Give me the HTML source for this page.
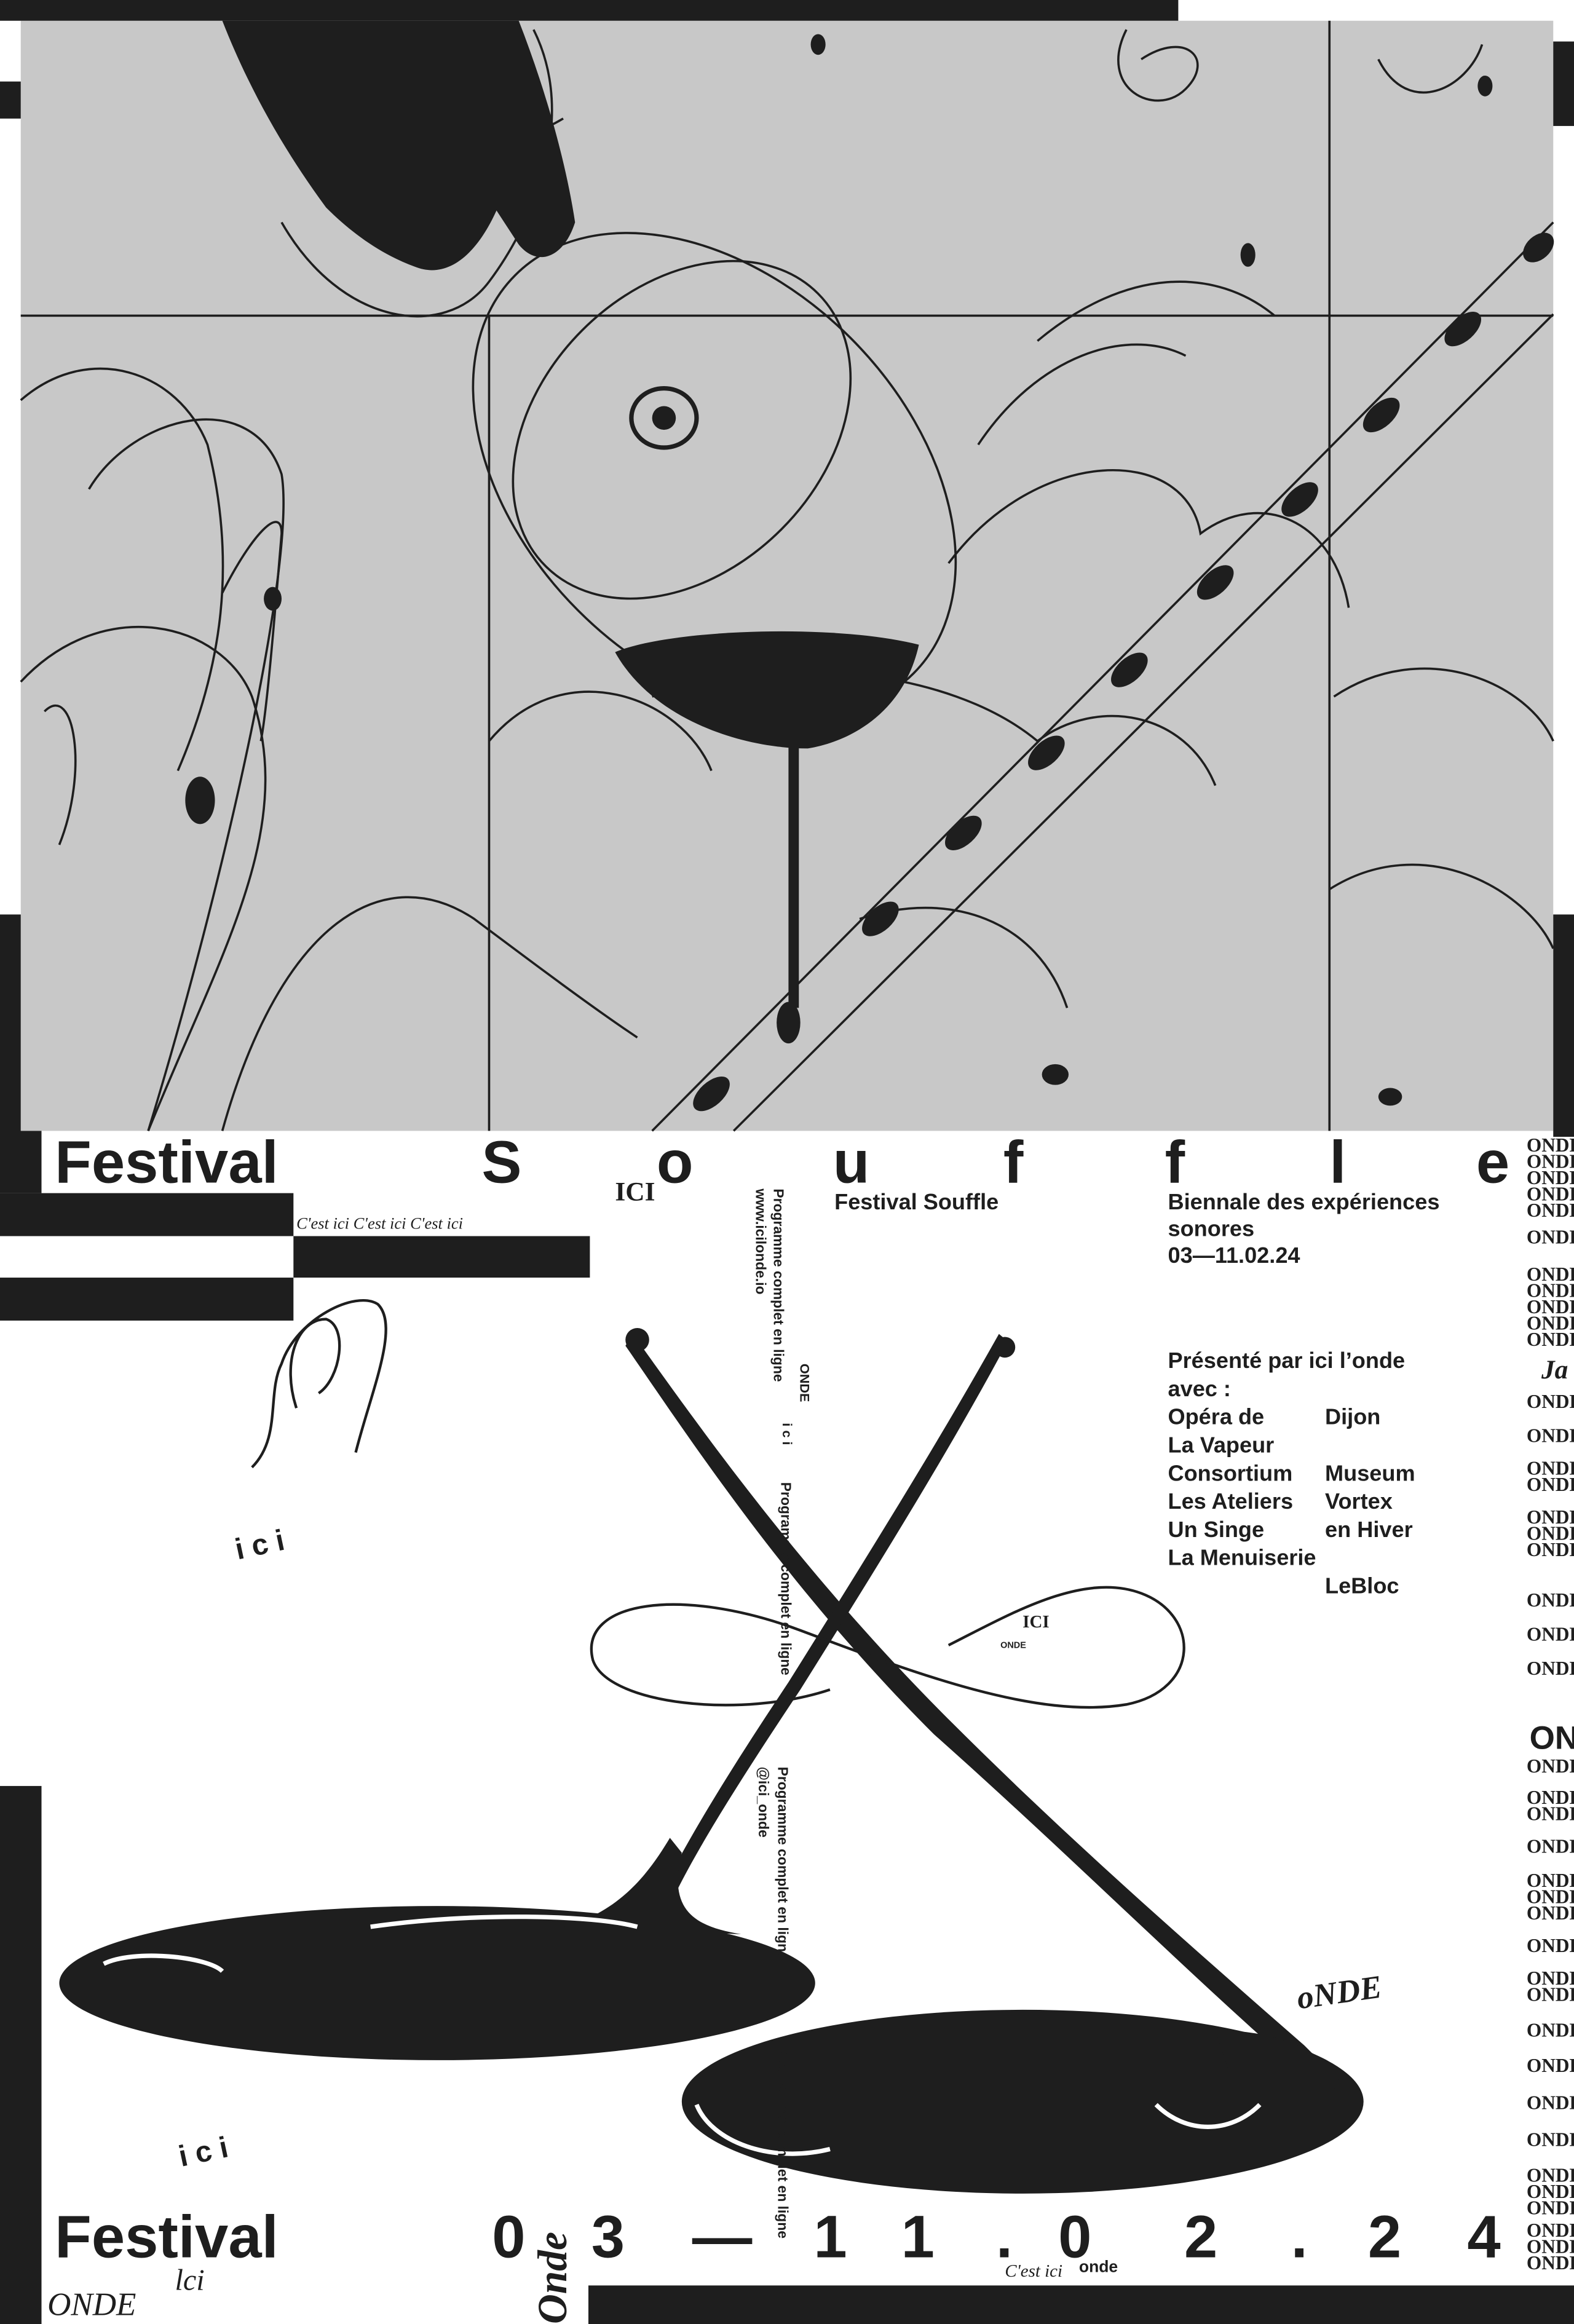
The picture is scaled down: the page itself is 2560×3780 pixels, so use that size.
<!DOCTYPE html>
<html><head><meta charset="utf-8"><style>
html,body{margin:0;padding:0;background:#fff;}
svg{display:block;}
.t{font-family:"Liberation Sans",sans-serif;font-weight:700;fill:#1e1e1e;}
.bl{font-family:"Liberation Serif","DejaVu Serif",serif;font-weight:700;fill:#1e1e1e;}
.sc{font-family:"Liberation Serif",serif;font-style:italic;fill:#1e1e1e;}
</style></head><body>
<svg width="2560" height="3780" viewBox="0 0 1062 1568" preserveAspectRatio="none" xmlns="http://www.w3.org/2000/svg">
<rect width="1062" height="1568" fill="#fff"/>
<rect x="14" y="14" width="1034" height="749" fill="#c8c8c8"/>
<rect x="0" y="0" width="795" height="14" fill="#1e1e1e"/>
<rect x="0" y="55" width="14" height="25" fill="#1e1e1e"/>
<rect x="0" y="617" width="14" height="150" fill="#1e1e1e"/>
<rect x="1048" y="28" width="14" height="57" fill="#1e1e1e"/>
<rect x="1048" y="617" width="14" height="150" fill="#1e1e1e"/>
<g fill="none" stroke="#1e1e1e" stroke-width="1.5">
<line x1="14" y1="213" x2="1048" y2="213"/>
<line x1="330" y1="213" x2="330" y2="763"/>
<line x1="897" y1="14" x2="897" y2="763"/>
<line x1="440" y1="763" x2="1048" y2="150"/>
<line x1="495" y1="763" x2="1048" y2="212"/>
<ellipse cx="482" cy="320" rx="190" ry="130" transform="rotate(45 482 320)"/>
<ellipse cx="460" cy="290" rx="95" ry="130" transform="rotate(45 460 290)"/>
<path d="M190,150 C230,220 300,230 330,190 C360,150 390,80 360,20"/>
<path d="M240,40 C280,90 330,110 380,80"/>
<path d="M14,270 C60,230 120,250 140,300 C160,380 150,450 120,520"/>
<path d="M14,460 C70,400 150,420 170,470 C200,560 150,640 100,763"/>
<path d="M100,763 C150,600 200,380 190,320 C170,260 90,280 60,330"/>
<path d="M150,763 C190,620 260,580 320,620 C360,650 400,680 430,700"/>
<path d="M330,500 C380,440 460,470 480,520"/>
<path d="M440,470 C520,440 640,450 700,500 C740,470 800,480 820,530"/>
<path d="M640,380 C700,300 800,300 810,360 C850,330 900,350 910,410"/>
<path d="M660,300 C700,240 760,220 800,240"/>
<path d="M700,230 C760,180 820,180 860,213"/>
<path d="M900,470 C960,430 1030,460 1048,500"/>
<path d="M580,620 C640,600 700,620 720,680"/>
<path d="M897,600 C960,560 1030,600 1048,640"/>
<path d="M760,20 C740,60 780,80 800,60 C820,40 800,20 770,40"/>
<path d="M930,40 C950,80 990,60 1000,30"/>
<path d="M150,400 C170,360 190,340 190,360 C185,420 180,480 176,500"/>
<path d="M30,480 C50,460 60,520 40,570"/>
</g>
<path d="M150,14 L350,14 C368,60 382,110 388,150 C380,175 362,180 350,165 L335,142 C320,175 300,188 280,180 C258,172 238,158 220,140 C192,102 168,60 150,14 Z" fill="#1e1e1e"/>
<g fill="#1e1e1e">
<ellipse cx="480" cy="738" rx="15" ry="8" transform="rotate(-42 480 738)"/>
<ellipse cx="594" cy="620" rx="15" ry="8" transform="rotate(-42 594 620)"/>
<ellipse cx="650" cy="562" rx="15" ry="8" transform="rotate(-42 650 562)"/>
<ellipse cx="706" cy="508" rx="15" ry="8" transform="rotate(-42 706 508)"/>
<ellipse cx="762" cy="452" rx="15" ry="8" transform="rotate(-42 762 452)"/>
<ellipse cx="820" cy="393" rx="15" ry="8" transform="rotate(-42 820 393)"/>
<ellipse cx="877" cy="337" rx="15" ry="8" transform="rotate(-42 877 337)"/>
<ellipse cx="932" cy="280" rx="15" ry="8" transform="rotate(-42 932 280)"/>
<ellipse cx="987" cy="222" rx="15" ry="8" transform="rotate(-42 987 222)"/>
<ellipse cx="1038" cy="167" rx="12" ry="8" transform="rotate(-42 1038 167)"/>
<path d="M415,440 C450,425 560,420 620,435 C610,480 575,500 545,505 C500,505 440,485 415,440 Z"/>
<rect x="532" y="500" width="7" height="180"/>
<ellipse cx="532" cy="690" rx="8" ry="14"/>
<ellipse cx="448" cy="282" rx="22" ry="20" fill="none" stroke="#1e1e1e" stroke-width="3"/>
<ellipse cx="448" cy="282" rx="8" ry="8"/>
<ellipse cx="184" cy="404" rx="6" ry="8"/>
<ellipse cx="135" cy="540" rx="10" ry="16"/>
<ellipse cx="842" cy="172" rx="5" ry="8"/>
<ellipse cx="1002" cy="58" rx="5" ry="7"/>
<ellipse cx="552" cy="30" rx="5" ry="7"/>
<ellipse cx="712" cy="725" rx="9" ry="7"/>
<ellipse cx="938" cy="740" rx="8" ry="6"/>
</g>

<rect x="0" y="763" width="28" height="42" fill="#1e1e1e"/>
<rect x="0" y="805" width="198" height="29" fill="#1e1e1e"/>
<rect x="198" y="834" width="200" height="28" fill="#1e1e1e"/>
<rect x="0" y="862" width="198" height="29" fill="#1e1e1e"/>
<rect x="0" y="1205" width="28" height="363" fill="#1e1e1e"/>
<rect x="397" y="1542" width="665" height="26" fill="#1e1e1e"/>

<g fill="#1e1e1e">
<path d="M427,900 C470,960 540,1060 640,1160 C720,1240 800,1310 880,1380 L900,1400 L880,1400 C800,1330 720,1250 630,1170 C530,1070 465,970 422,908 Z"/>
<circle cx="430" cy="904" r="8"/>
<path d="M680,905 C640,980 590,1060 540,1140 C500,1200 465,1255 450,1290 L440,1290 C458,1250 492,1195 532,1135 C582,1055 632,975 674,900 Z"/>
<circle cx="678" cy="909" r="7"/>
<ellipse cx="295" cy="1338" rx="255" ry="52"/>
<path d="M380,1300 C420,1290 440,1260 452,1240 L460,1250 C450,1290 470,1300 500,1305 Z"/>
<ellipse cx="690" cy="1418" rx="230" ry="62"/>
<path d="M820,1370 C860,1370 880,1380 905,1398 L900,1410 C870,1405 850,1400 830,1400 Z"/>
</g>
<g fill="none" stroke="#fff" stroke-width="3">
<path d="M70,1325 C90,1315 140,1320 150,1330"/>
<path d="M250,1300 C320,1290 400,1292 430,1300"/>
<path d="M470,1420 C480,1445 520,1460 560,1450"/>
<path d="M780,1420 C800,1440 830,1440 850,1420"/>
</g>
<g fill="none" stroke="#1e1e1e" stroke-width="1.8">
<path d="M560,1140 C500,1160 410,1150 400,1120 C390,1080 460,1070 540,1100 C620,1130 700,1160 760,1150 C810,1140 810,1090 770,1075 C730,1060 680,1090 640,1110"/>
<path d="M170,990 C190,970 180,940 190,920 C200,890 240,870 255,880 C270,895 250,940 240,980"/>
<path d="M200,950 C190,920 200,890 220,890 C235,895 230,930 215,940"/>
</g>

<text class="t" x="37" y="798" font-size="40.5">Festival</text>
<g class="t" font-size="40.5">
<text x="325" y="798">S</text><text x="443" y="798">o</text><text x="562" y="798">u</text><text x="677" y="798">f</text><text x="786" y="798">f</text><text x="897" y="798">l</text><text x="996" y="798">e</text>
</g>
<text class="t" x="37" y="1523" font-size="40.5">Festival</text>
<g class="t" font-size="40.5">
<text x="332" y="1523">0</text><text x="399" y="1523">3</text><text x="467" y="1523">—</text><text x="549" y="1523">1</text><text x="608" y="1523">1</text><text x="672" y="1523">.</text><text x="714" y="1523">0</text><text x="799" y="1523">2</text><text x="871" y="1523">.</text><text x="923" y="1523">2</text><text x="990" y="1523">4</text>
</g>

<g class="t" font-size="15">
<text x="563" y="816">Festival Souffle</text>
<text x="788" y="816">Biennale des expériences</text>
<text x="788" y="834">sonores</text>
<text x="788" y="852">03—11.02.24</text>
<text x="788" y="923">Présenté par ici l’onde</text>
<text x="788" y="942">avec :</text>
<text x="788" y="961">Opéra de</text><text x="894" y="961">Dijon</text>
<text x="788" y="980">La Vapeur</text>
<text x="788" y="999">Consortium</text><text x="894" y="999">Museum</text>
<text x="788" y="1018">Les Ateliers</text><text x="894" y="1018">Vortex</text>
<text x="788" y="1037">Un Singe</text><text x="894" y="1037">en Hiver</text>
<text x="788" y="1056">La Menuiserie</text>
<text x="894" y="1075">LeBloc</text>
</g>

<g class="t" font-size="9.5" font-weight="400">
<text transform="translate(522,802) rotate(90)">Programme complet en ligne</text>
<text transform="translate(510,802) rotate(90)">www.icilonde.io</text>
<text transform="translate(527,1000) rotate(90)">Programme complet en ligne</text>
<text transform="translate(525,1192) rotate(90)">Programme complet en ligne</text>
<text transform="translate(512,1192) rotate(90)">@ici_onde</text>
<text transform="translate(525,1380) rotate(90)">Programme complet en ligne</text>
</g>
<text class="t" font-size="9" transform="translate(540,920) rotate(90)">ONDE</text>
<text class="t" font-size="9" transform="translate(528,960) rotate(90)">i c i</text>

<text class="sc" x="200" y="829" font-size="11">C'est ici C'est ici C'est ici</text>
<text class="bl" x="415" y="810" font-size="18">ICI</text>
<text class="t" x="158" y="1050" font-size="20" transform="rotate(-12 170 1040)">i c i</text>
<text class="t" x="120" y="1460" font-size="20" transform="rotate(-12 130 1450)">i c i</text>
<text class="t" x="675" y="1112" font-size="6">ONDE</text>
<text class="bl" x="690" y="1098" font-size="12">ICI</text>
<text class="sc" x="875" y="1352" font-size="22" font-weight="700" transform="rotate(-8 900 1345)">oNDE</text>
<text class="sc" x="32" y="1562" font-size="22">ONDE</text>
<text class="sc" x="118" y="1545" font-size="20">lci</text>
<text class="sc" x="678" y="1536" font-size="12">C'est ici</text>
<text class="t" x="728" y="1533" font-size="11">onde</text>
<text class="sc" font-size="28" font-weight="700" transform="translate(382,1568) rotate(-90)">Onde</text>

<g class="bl" font-size="13">
<text x="1030" y="777">ONDE</text><text x="1030" y="788">ONDE</text><text x="1030" y="799">ONDE</text><text x="1030" y="810">ONDE</text><text x="1030" y="821">ONDE</text>
<text x="1030" y="839">ONDE</text>
<text x="1030" y="864">ONDE</text><text x="1030" y="875">ONDE</text><text x="1030" y="886">ONDE</text><text x="1030" y="897">ONDE</text><text x="1030" y="908">ONDE</text>
<text x="1040" y="930" class="sc" font-size="18">Ja</text>
<text x="1030" y="950">ONDE</text>
<text x="1030" y="973">ONDE</text>
<text x="1030" y="995">ONDE</text><text x="1030" y="1006">ONDE</text>
<text x="1030" y="1028">ONDE</text><text x="1030" y="1039">ONDE</text><text x="1030" y="1050">ONDE</text>
<text x="1030" y="1084">ONDE</text>
<text x="1030" y="1107">ONDE</text>
<text x="1030" y="1130">ONDE</text>
<text x="1032" y="1180" font-size="22" class="t">OND</text>
<text x="1030" y="1196">ONDE</text>
<text x="1030" y="1217">ONDE</text><text x="1030" y="1228">ONDE</text>
<text x="1030" y="1250">ONDE</text>
<text x="1030" y="1273">ONDE</text><text x="1030" y="1284">ONDE</text><text x="1030" y="1295">ONDE</text>
<text x="1030" y="1317">ONDE</text>
<text x="1030" y="1339">ONDE</text><text x="1030" y="1350">ONDE</text>
<text x="1030" y="1374">ONDE</text>
<text x="1030" y="1398">ONDE</text>
<text x="1030" y="1423">ONDE</text>
<text x="1030" y="1448">ONDE</text>
<text x="1030" y="1472">ONDE</text><text x="1030" y="1483">ONDE</text><text x="1030" y="1494">ONDE</text>
<text x="1030" y="1509">ONDE</text><text x="1030" y="1520">ONDE</text><text x="1030" y="1531">ONDE</text>
</g>
</svg>
</body></html>
